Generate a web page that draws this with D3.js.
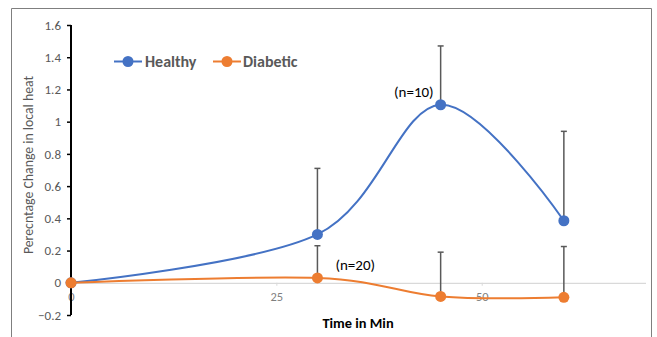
<!DOCTYPE html>
<html><head><meta charset="utf-8">
<script src="https://cdn.jsdelivr.net/npm/d3@7"></script>
<style>body{margin:0;background:#fff}svg{display:block}</style>
</head><body>
<svg id="c" width="657" height="337"></svg>
<script>
const times = [0, 30, 45, 60];
const healthy = [0, 0.30, 1.105, 0.385];
const healthyErr = [0, 0.41, 0.365, 0.555];
const diabetic = [0, 0.03, -0.085, -0.09];
const diabeticErr = [0, 0.20, 0.275, 0.315];
const yTicks = [-0.2, 0, 0.2, 0.4, 0.6, 0.8, 1, 1.2, 1.4, 1.6];
const xTicks = [0, 25, 50];
const seriesNames = ["Healthy", "Diabetic"];
const colors = ["#4472C4", "#ED7D31"];
const annotations = [{t: 45, v: 1.105, text: "(n=10)"}, {t: 30, v: 0.03, text: "(n=20)"}];

const svg = d3.select("#c");
const font = "Calibri, Carlito, Lato, sans-serif";
const x = d3.scaleLinear().domain([0, 70]).range([71, 646]);
const y = d3.scaleLinear().domain([-0.2, 1.6]).range([315, 25]);

// frame
svg.append("path").attr("d", "M11.5,337 V8.5 H651.5 V337").attr("fill", "none").attr("stroke", "#7f7f7f").attr("stroke-width", 1);

// x axis line at y=0
const xAxis = d3.axisBottom(x).tickValues(xTicks).tickSize(3).tickFormat(d3.format("d"));
const gx = svg.append("g").attr("transform", `translate(0,${y(0)})`).call(xAxis);
gx.select(".domain").attr("stroke", "#d9d9d9").attr("stroke-width", 1.2).attr("d", `M${x(0)},0.5H${x(70)}`);
gx.selectAll(".tick line").attr("stroke", "#d9d9d9");
gx.selectAll(".tick text").attr("fill", "#7f7f7f").attr("font-size", 12.5).attr("font-family", font).attr("dy", "1.0em");

// y axis
const yAxis = d3.axisLeft(y).tickValues(yTicks).tickSize(4).tickFormat(d => d3.format("")(Math.round(d * 10) / 10));
const gy = svg.append("g").attr("transform", `translate(${x(0)},0)`).call(yAxis);
gy.select(".domain").attr("stroke", "#000").attr("stroke-width", 2).attr("d", `M0,${y(1.6)}V${y(-0.2)}`);
gy.selectAll(".tick line").attr("stroke", "#000").attr("stroke-width", 1.5);
gy.selectAll(".tick text").attr("fill", "#595959").attr("font-size", 13).attr("font-family", font).attr("x", -10);

// axis titles
svg.append("text").attr("x", 358).attr("y", 328).attr("text-anchor", "middle")
  .attr("font-family", font).attr("font-weight", "bold").attr("font-size", 14.4).attr("fill", "#000").text("Time in Min");
svg.append("text").attr("transform", "translate(33,165) rotate(-90)").attr("text-anchor", "middle")
  .attr("font-family", font).attr("font-size", 13.8).attr("fill", "#595959").text("Perecntage Change in local heat");

const allSeries = [
  {name: seriesNames[0], vals: healthy, err: healthyErr, color: colors[0]},
  {name: seriesNames[1], vals: diabetic, err: diabeticErr, color: colors[1]}
];

const line = d3.line().x(d => x(d[0])).y(d => y(d[1])).curve(d3.curveCardinal.tension(0));

// error bars
allSeries.forEach(s => {
  times.forEach((t, i) => {
    if (s.err[i] <= 0) return;
    const g = svg.append("g").attr("stroke", "#595959").attr("stroke-width", 1.5);
    g.append("line").attr("x1", x(t)).attr("x2", x(t)).attr("y1", y(s.vals[i])).attr("y2", y(s.vals[i] + s.err[i]));
    g.append("line").attr("x1", x(t) - 3).attr("x2", x(t) + 3).attr("y1", y(s.vals[i] + s.err[i])).attr("y2", y(s.vals[i] + s.err[i]));
  });
});

// lines and markers (healthy first, diabetic on top)
allSeries.forEach(s => {
  const pts = times.map((t, i) => [t, s.vals[i]]);
  svg.append("path").attr("d", line(pts)).attr("fill", "none").attr("stroke", s.color).attr("stroke-width", 2);
  svg.selectAll(null).data(pts).join("circle")
    .attr("cx", d => x(d[0])).attr("cy", d => y(d[1])).attr("r", 5.5).attr("fill", s.color);
});

// annotations
annotations.forEach((a, i) => {
  svg.append("text").attr("x", i === 0 ? x(a.t) - 7 : x(a.t) + 18).attr("y", y(a.v) - 8)
    .attr("text-anchor", i === 0 ? "end" : "start").attr("font-family", font).attr("font-size", 15).attr("fill", "#000").text(a.text);
});

// legend
const legendPos = [{lx: 114, tx: 145}, {lx: 213, tx: 243}];
allSeries.forEach((s, i) => {
  const p = legendPos[i], ly = 61.5;
  svg.append("line").attr("x1", p.lx).attr("x2", p.lx + 28).attr("y1", ly).attr("y2", ly).attr("stroke", s.color).attr("stroke-width", 2);
  svg.append("circle").attr("cx", p.lx + 14).attr("cy", ly).attr("r", 5.5).attr("fill", s.color);
  svg.append("text").attr("x", p.tx).attr("y", ly + 5.5).attr("font-family", font).attr("font-weight", "bold")
    .attr("font-size", 16).attr("fill", "#595959").text(s.name);
});
</script>
</body></html>
